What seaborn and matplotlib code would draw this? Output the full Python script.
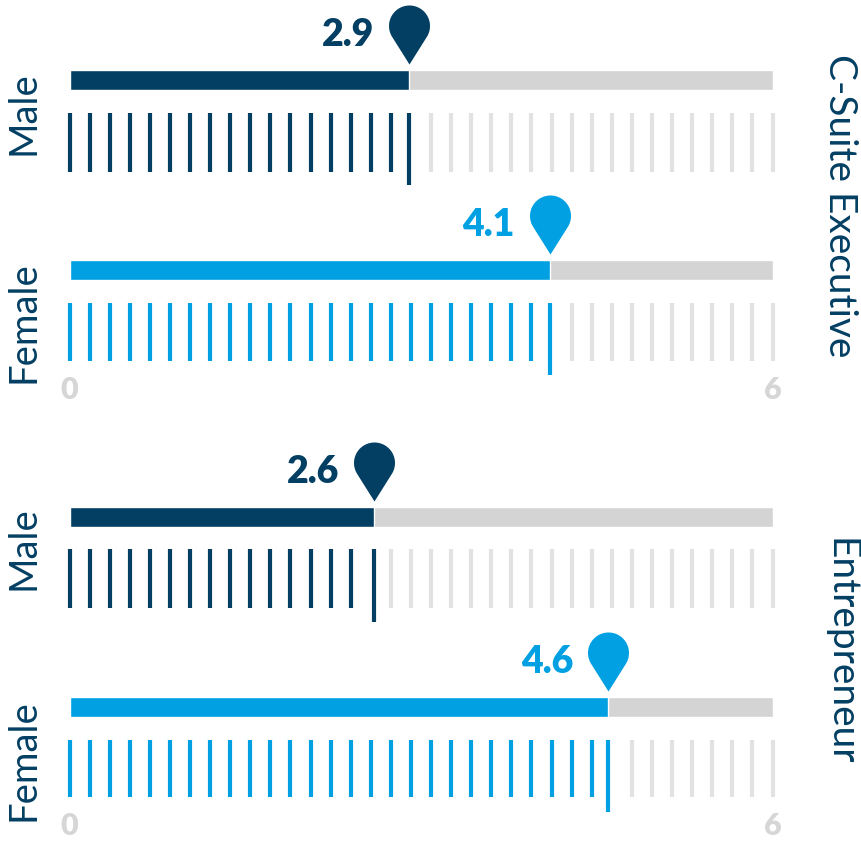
import numpy as np
import pandas as pd
import matplotlib
matplotlib.use("Agg")
import matplotlib.pyplot as plt
from matplotlib.path import Path
from matplotlib.markers import MarkerStyle
import seaborn as sns

# ---------------- data ----------------
categories = ["C-Suite Executive", "Entrepreneur"]
genders = ["Male", "Female"]
values = [2.9, 4.1, 2.6, 4.6]          # C-Suite M, C-Suite F, Entrepreneur M, Entrepreneur F
row_gender = ["Male", "Female", "Male", "Female"]
value_labels = ["2.9", "4.1", "2.6", "4.6"]
scale_min, scale_max = 0, 6
axis_tick_labels = ["0", "6"]
n_ticks = 36

# ---------------- style ----------------
NAVY = "#033F63"
BLUE = "#00A0E2"
GREY_BAR = "#D4D4D4"
GREY_TICK = "#E2E2E2"
GREY_LABEL = "#D6D6D6"
palette = {"Male": NAVY, "Female": BLUE}

sns.set_style("white")
plt.rcParams["font.family"] = ["Lato", "DejaVu Sans"]

W, H = 861, 844
fig = plt.figure(figsize=(W / 100, H / 100), dpi=100)
ax = fig.add_axes([0, 0, 1, 1])

# layout (pixel rows, top-down)
bar_y = [80, 270, 517, 707]
bar_h = 20
tick_top = [113, 303, 549, 740]
tick_bot = [172, 361, 608, 797]
mark_bot = [185, 375, 622, 812]
pin_tip = [y - bar_h / 2 - 6 for y in bar_y]
axis_label_y = [390, 826]
left_label_y = [113, 322, 548, 760]
right_label_y = [206, 652]

x0_px, x6_px = 69.5, 772.5
ppu = (x6_px - x0_px) / (scale_max - scale_min)

df = pd.DataFrame({
    "value": values,
    "full": [scale_max] * len(values),
    "y": bar_y,
    "gender": row_gender,
})

width = bar_h / (bar_y[1] - bar_y[0])
# background (grey) bars
sns.barplot(data=df, x="full", y="y", orient="y", native_scale=True,
            width=width, color=GREY_BAR, saturation=1, errorbar=None, ax=ax)
# value bars
sns.barplot(data=df, x="value", y="y", hue="gender", palette=palette,
            orient="y", native_scale=True, dodge=False, width=width,
            saturation=1, errorbar=None, legend=False, ax=ax)

# tick ladders
ticks = np.linspace(scale_min, scale_max, n_ticks)
half = (ticks[1] - ticks[0]) / 2
for i, v in enumerate(values):
    col = palette[row_gender[i]]
    for t in ticks:
        if abs(t - v) < half:
            continue
        ax.vlines(t, tick_top[i], tick_bot[i], colors=col if t < v else GREY_TICK,
                  linewidth=3.0)
    ax.vlines(v, tick_top[i], mark_bot[i], colors=col, linewidth=3.0)

# pin marker (tip at origin)
R = 20.5
d = 59 - R
beta = np.arccos(R / d)
angs = np.linspace(-np.pi / 2 + beta, 3 * np.pi / 2 - beta, 80)
verts = [(0, 0)] + [(R * np.cos(a), d + R * np.sin(a)) for a in angs] + [(0, 0)]
codes = [Path.MOVETO] + [Path.LINETO] * (len(verts) - 2) + [Path.CLOSEPOLY]
pin = MarkerStyle(Path(verts, codes))
size_pt = 2 * 59 * 72 / 100
for i, v in enumerate(values):
    ax.scatter([v], [pin_tip[i]], marker=pin, s=size_pt ** 2,
               color=palette[row_gender[i]], linewidths=0, zorder=5)
    ax.annotate(value_labels[i], xy=(v, pin_tip[i]), xytext=(-35, 29),
                textcoords="offset pixels", ha="right", va="center",
                fontsize=27, fontweight=800, color=palette[row_gender[i]])

# scale labels 0 / 6
for yy in axis_label_y:
    for lab, xv in zip(axis_tick_labels, [scale_min, scale_max]):
        ax.text(xv, yy, lab, ha="center", va="center", fontsize=22,
                fontweight=800, color=GREY_LABEL)

# axes limits in pixel-like space
ax.set_xlim(-x0_px / ppu, (W - x0_px) / ppu)
ax.set_ylim(H, 0)
ax.axis("off")

# left (gender) labels and right (category) labels
lx = -(x0_px - 23) / ppu
for i, yy in enumerate(left_label_y):
    ax.text(lx, yy, row_gender[i], rotation=90, ha="center", va="center",
            fontsize=27.5, color=NAVY)
rx = (840 - x0_px) / ppu
for c, yy in zip(categories, right_label_y):
    ax.text(rx, yy, c, rotation=-90, ha="center", va="center",
            fontsize=28, color=NAVY)

fig.savefig("out.png", dpi=100)
